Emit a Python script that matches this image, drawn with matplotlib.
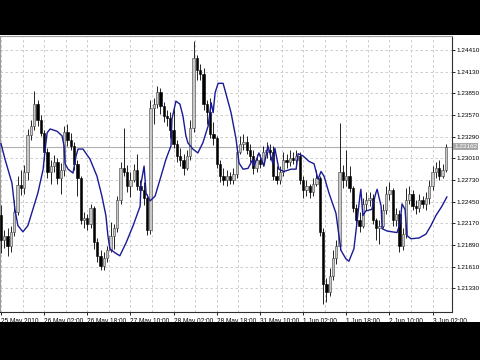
import numpy as np
import matplotlib
matplotlib.use('Agg')
import matplotlib.pyplot as plt
from matplotlib.patches import Rectangle

# EURUSD-like H1 candles (first open, then closes/highs/lows)
first_open = 1.2228
closes = [1.2195, 1.2201, 1.2188, 1.2206, 1.2232, 1.2267, 1.2263, 1.2283, 1.2331, 1.2343,
          1.2371, 1.2350, 1.2334, 1.2309, 1.2283, 1.2291, 1.2296, 1.2276, 1.2286, 1.2335,
          1.2325, 1.2317, 1.2294, 1.2276, 1.2221, 1.2224, 1.2216, 1.2237, 1.2193, 1.2175,
          1.2162, 1.2172, 1.2182, 1.2201, 1.2211, 1.2247, 1.2288, 1.2283, 1.2265, 1.2273,
          1.2286, 1.2265, 1.2260, 1.2250, 1.2208, 1.2366, 1.2371, 1.2387, 1.2369, 1.2356,
          1.2353, 1.2338, 1.2320, 1.2304, 1.2299, 1.2288, 1.2304, 1.2340, 1.2431, 1.2415,
          1.2410, 1.2371, 1.2361, 1.2332, 1.2327, 1.2294, 1.2278, 1.2273, 1.2278, 1.2273,
          1.2281, 1.2309, 1.2320, 1.2322, 1.2312, 1.2304, 1.2288, 1.2299, 1.2294, 1.2309,
          1.2312, 1.2309, 1.2278, 1.2273, 1.2283, 1.2299, 1.2296, 1.2301, 1.2299, 1.2304,
          1.2273, 1.2260, 1.2265, 1.2257, 1.2268, 1.2276, 1.2206, 1.2138, 1.2128, 1.2149,
          1.2172, 1.2188, 1.2283, 1.2273, 1.2278, 1.2263, 1.2237, 1.2221, 1.2214, 1.2242,
          1.2247, 1.2250, 1.2221, 1.2211, 1.2214, 1.2234, 1.2255, 1.2260, 1.2221, 1.2229,
          1.2188, 1.2203, 1.2247, 1.2255, 1.2239, 1.2237, 1.2247, 1.2242, 1.2250, 1.2265,
          1.2283, 1.2288, 1.2278, 1.2286, 1.23162]
highs = [1.2241, 1.2208, 1.2211, 1.2214, 1.2247, 1.2278, 1.2286, 1.2292, 1.2339, 1.2350,
         1.2388, 1.2376, 1.2357, 1.2338, 1.2314, 1.2299, 1.2305, 1.2301, 1.2295, 1.2343,
         1.2345, 1.2334, 1.2322, 1.2299, 1.2278, 1.2232, 1.2229, 1.2242, 1.2239, 1.2198,
         1.2182, 1.2180, 1.2188, 1.2219, 1.2216, 1.2252, 1.2296, 1.2340, 1.2292, 1.2283,
         1.2294, 1.2307, 1.2273, 1.2270, 1.2255, 1.2376, 1.2379, 1.2394, 1.2392, 1.2374,
         1.2363, 1.2361, 1.2366, 1.2325, 1.2314, 1.2307, 1.2312, 1.2350, 1.2453, 1.2435,
         1.2423, 1.2418, 1.2376, 1.2379, 1.2348, 1.2330, 1.2299, 1.2288, 1.2286, 1.2283,
         1.2288, 1.2317, 1.2330, 1.2332, 1.2330, 1.2320, 1.2312, 1.2307, 1.2307, 1.2317,
         1.2322, 1.2320, 1.2317, 1.2291, 1.2291, 1.2309, 1.2307, 1.2312, 1.2309, 1.2312,
         1.2309, 1.2278, 1.2273, 1.2268, 1.2276, 1.2286, 1.2278, 1.2211, 1.2146, 1.2159,
         1.2182, 1.2195, 1.2347, 1.2292, 1.2312, 1.2291, 1.2265, 1.2242, 1.2232, 1.2250,
         1.2257, 1.2257, 1.2255, 1.2224, 1.2221, 1.2242, 1.2265, 1.2270, 1.2263, 1.2237,
         1.2234, 1.2211, 1.2263, 1.2265, 1.2260, 1.2247, 1.2255, 1.2252, 1.2257, 1.2273,
         1.2291, 1.2296, 1.2299, 1.2294, 1.2320]
lows = [1.2179, 1.2185, 1.2175, 1.2180, 1.2201, 1.2228, 1.2254, 1.2255, 1.2273, 1.2325,
        1.2338, 1.2343, 1.2330, 1.2299, 1.2276, 1.2268, 1.2283, 1.2268, 1.2255, 1.2278,
        1.2317, 1.2312, 1.2286, 1.2252, 1.2216, 1.2211, 1.2208, 1.2211, 1.2184, 1.2167,
        1.2157, 1.2157, 1.2167, 1.2180, 1.2184, 1.2206, 1.2242, 1.2278, 1.2257, 1.2251,
        1.2270, 1.2260, 1.2247, 1.2241, 1.2202, 1.2203, 1.2345, 1.2366, 1.2358, 1.2348,
        1.2343, 1.2327, 1.2314, 1.2296, 1.2291, 1.2279, 1.2286, 1.2299, 1.2335, 1.2402,
        1.2402, 1.2363, 1.2345, 1.2327, 1.2318, 1.2288, 1.2270, 1.2267, 1.2265, 1.2268,
        1.2268, 1.2276, 1.2307, 1.2312, 1.2307, 1.2296, 1.2281, 1.2283, 1.2288, 1.2291,
        1.2301, 1.2299, 1.2273, 1.2268, 1.2268, 1.2278, 1.2288, 1.2291, 1.2294, 1.2294,
        1.2268, 1.2250, 1.2252, 1.2250, 1.2252, 1.2265, 1.2201, 1.2113, 1.2115, 1.2123,
        1.2144, 1.2164, 1.2182, 1.2263, 1.2265, 1.2257, 1.2232, 1.2214, 1.2206, 1.2211,
        1.2234, 1.2239, 1.2216, 1.2195, 1.2190, 1.2211, 1.2229, 1.2247, 1.2214, 1.2214,
        1.2180, 1.2182, 1.2198, 1.2242, 1.2234, 1.2229, 1.2232, 1.2237, 1.2234, 1.2242,
        1.2260, 1.2276, 1.2273, 1.2276, 1.2283]

# blue indicator line (bar position, value)
ma_pos = [0, 1.2, 3.3, 4.2, 5.1, 6.6, 8.1, 9.6, 11.1, 12.7, 13.3, 13.9, 14.8, 16.9, 18.4,
          19.0, 19.3, 20.2, 21.7, 22.6, 23.2, 24.7, 26.8, 28.9, 30.4, 31.6, 32.2, 32.8, 34.3,
          35.8, 37.7, 39.8, 41.9, 42.2, 43.1, 43.7, 44.9, 46.4, 48.2, 49.7, 51.2, 51.5, 52.7,
          53.9, 54.8, 55.7, 56.3, 57.8, 59.3, 60.8, 62.4, 63.3, 63.9, 64.5, 65.4, 66.9, 67.8,
          69.3, 70.8, 71.7, 72.9, 74.4, 75.9, 76.2, 77.7, 79.2, 80.4, 81.9, 82.5, 83.7, 85.2,
          87.4, 88.9, 89.5, 91.0, 92.8, 94.3, 95.5, 96.4, 97.3, 98.8, 100.9, 101.8, 102.4,
          103.9, 104.8, 106.3, 107.2, 108.1, 108.4, 109.0, 109.9, 111.7, 112.9, 113.3, 114.5,
          114.8, 116.3, 119.3, 120.2, 120.8, 121.7, 122.3, 123.5, 125.9, 128.0, 129.5, 131.0,
          132.8, 134.3]
ma_val = [1.2320, 1.2300, 1.2269, 1.2235, 1.2214, 1.2206, 1.2214, 1.2235, 1.2256, 1.2287,
          1.2313, 1.2334, 1.2339, 1.2336, 1.2330, 1.2317, 1.2294, 1.2287, 1.2282, 1.2304,
          1.2313, 1.2313, 1.2300, 1.2278, 1.2252, 1.2227, 1.2201, 1.2184, 1.2179, 1.2175,
          1.2192, 1.2214, 1.2239, 1.2269, 1.2291, 1.2256, 1.2246, 1.2252, 1.2278, 1.2300,
          1.2317, 1.2352, 1.2375, 1.2371, 1.2356, 1.2330, 1.2321, 1.2313, 1.2308, 1.2321,
          1.2343, 1.2373, 1.2360, 1.2386, 1.2398, 1.2398, 1.2384, 1.2360, 1.2326, 1.2295,
          1.2287, 1.2288, 1.2300, 1.2291, 1.2308, 1.2291, 1.2317, 1.2294, 1.2314, 1.2287,
          1.2284, 1.2287, 1.2287, 1.2307, 1.2304, 1.2297, 1.2294, 1.2274, 1.2284, 1.2278,
          1.2256, 1.2230, 1.2201, 1.2182, 1.2171, 1.2168, 1.2184, 1.2217, 1.2252, 1.2261,
          1.2227, 1.2233, 1.2235, 1.2256, 1.2261, 1.2239, 1.2210, 1.2207, 1.2205, 1.2217,
          1.2242, 1.2235, 1.2201, 1.2197, 1.2198, 1.2203, 1.2214, 1.2227, 1.2239, 1.2251]

price_ticks = [1.21330, 1.21610, 1.21890, 1.22170, 1.22450, 1.22730, 1.23010,
               1.23290, 1.23570, 1.23850, 1.24130, 1.24410]
time_labels = ['25 May 2010', '26 May 02:00', '26 May 18:00', '27 May 10:00', '28 May 02:00',
               '28 May 18:00', '31 May 10:00', '1 Jun 02:00', '1 Jun 18:00', '2 Jun 10:00',
               '3 Jun 02:00']
last_price = 1.23162

closes = np.array(closes)
highs = np.array(highs)
lows = np.array(lows)
opens = np.concatenate([[first_open], closes[:-1]])
x = np.arange(len(closes))

fig = plt.figure(figsize=(4.8, 3.6), dpi=100)
fig.patch.set_facecolor('black')
# white chart window between the letterbox bars
fig.patches.append(Rectangle((0, 38 / 360), 1, 287 / 360, transform=fig.transFigure,
                             facecolor='white', edgecolor='none', zorder=-10))

ax = fig.add_axes([0, 48 / 360, 452 / 480, 276 / 360])
ax.set_facecolor('white')

# grid
grid_kw = dict(color='#c4c4c4', linestyle=(0, (3, 3)), linewidth=0.6, zorder=0)
for p in price_ticks:
    ax.axhline(p, **grid_kw)
for g in np.arange(0, 140, 6.5):
    ax.axvline(g, **grid_kw)

ax.axhline(last_price, color='#b0b0b0', linewidth=0.8, zorder=1)

# candles
up = closes >= opens
ax.vlines(x, lows, highs, color='black', linewidth=0.6, zorder=2)
ax.bar(x[up], closes[up] - opens[up], bottom=opens[up], width=0.7,
       color='#c8c8c8', edgecolor='#404040', linewidth=0.4, zorder=3)
ax.bar(x[~up], opens[~up] - closes[~up], bottom=closes[~up], width=0.7,
       color='black', edgecolor='black', linewidth=0.4, zorder=3)

ax.plot(ma_pos, ma_val, color='#1a1a96', linewidth=1.0, zorder=4)

ax.set_xlim(-0.3, 135.85)
ax.set_ylim(1.21023, 1.24592)

yfont = dict(family='Liberation Sans', size=4.6)
xfont = dict(family='Liberation Sans', size=4.7)
ax.yaxis.tick_right()
ax.set_yticks(price_ticks)
ax.set_yticklabels([f'{p:.5f}' for p in price_ticks], fontdict=yfont)
ax.set_xticks(np.arange(0, 131, 13))
ax.set_xticklabels(time_labels, fontdict=xfont, ha='left')
ax.tick_params(axis='both', length=2.5, width=0.6, pad=1, colors='black')
ax.tick_params(axis='x', pad=2)

for side in ['left', 'top']:
    ax.spines[side].set_color('#9a9a9a')
for side in ['right', 'bottom']:
    ax.spines[side].set_color('#303030')
for s in ax.spines.values():
    s.set_linewidth(0.8)

# current price marker on the scale
ax.annotate(f'{last_price:.5f}', xy=(1.0, last_price), xycoords=('axes fraction', 'data'),
            xytext=(1.5, 0), textcoords='offset points', va='center', ha='left',
            fontsize=4.6, family='Liberation Sans', color='white',
            bbox=dict(boxstyle='square,pad=0.15', facecolor='#a8a8a8', edgecolor='none'))

fig.savefig('out.png', dpi=100, facecolor=fig.get_facecolor())
